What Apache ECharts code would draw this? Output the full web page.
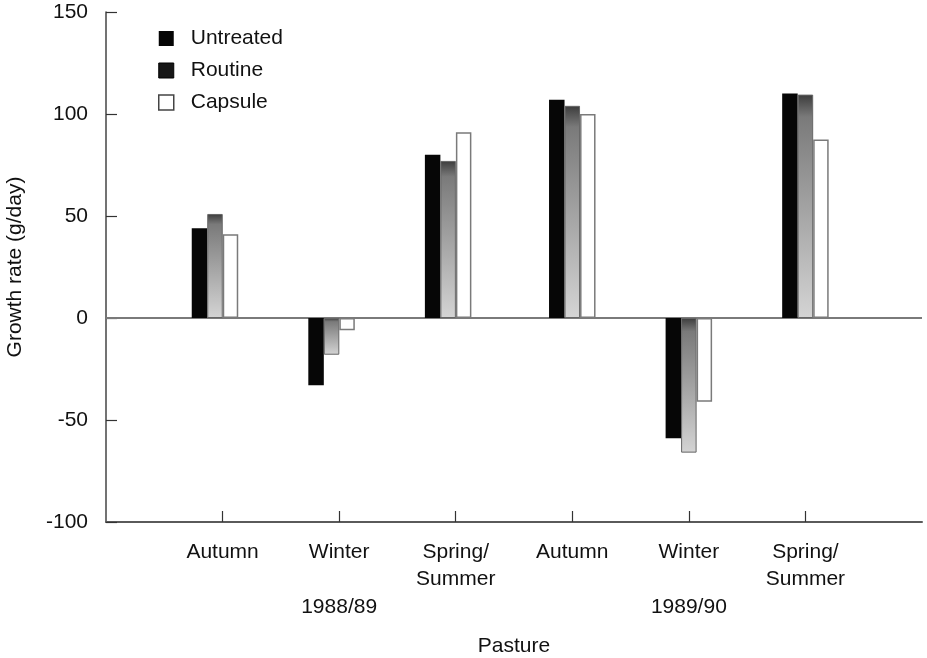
<!DOCTYPE html>
<html>
<head>
<meta charset="utf-8">
<script src="https://cdn.jsdelivr.net/npm/echarts@6/dist/echarts.min.js"></script>
<style>
  html, body { margin: 0; padding: 0; background: #fff; }
  #chart { width: 927px; height: 658px; }
</style>
</head>
<body>
<div id="chart"></div>
<script>
// Pasture seasons over two grazing years, growth rate in g/day
const seasons = ['Autumn', 'Winter', 'Spring/\nSummer', 'Autumn', 'Winter', 'Spring/\nSummer'];
const years = ['1988/89', '1989/90'];
const untreated = [44, -33, 80, 107, -59, 110];
const routine = [51, -18, 77, 104, -66, 109.5];
const capsule = [41, -6, 91, 100, -41, 87.5];
const yTicks = [-100, -50, 0, 50, 100, 150];

const FONT = '"Liberation Sans", Arial, Helvetica, sans-serif';
const TEXT = '#111';
const FS = 21;

// season slots sit at 1..6 on the x scale; the first year's groups are drawn a touch left
const seasonPos = seasons.map((_, i) => i + 1);
const groupPos = seasonPos.map((p, i) => (i < 3 ? p - 0.065 : p));
const yearPos = [2, 5];

const toPairs = vals => vals.map((v, i) => [groupPos[i], v]);

const chart = echarts.init(document.getElementById('chart'), null, { renderer: 'canvas' });

chart.setOption({
  backgroundColor: '#fff',
  animation: false,
  textStyle: { fontFamily: FONT },
  grid: { left: 106, right: 5, top: 12, bottom: 136, containLabel: false, outerBoundsMode: 'none' },
  legend: {
    orient: 'vertical',
    left: 153,
    top: 23,
    padding: 5,
    itemWidth: 15,
    itemHeight: 15,
    itemGap: 11,
    selectedMode: false,
    textStyle: { fontFamily: FONT, fontSize: FS, color: TEXT, padding: [0, 0, 0, 12] },
    data: [
      { name: 'Untreated', icon: 'rect', itemStyle: { color: '#050505', borderWidth: 0 } },
      { name: 'Routine', icon: 'rect', itemStyle: { color: '#161616', borderColor: '#000', borderWidth: 1 } },
      { name: 'Capsule', icon: 'rect', itemStyle: { color: '#fff', borderColor: '#444', borderWidth: 1.5 } }
    ]
  },
  xAxis: [
    {
      type: 'value',
      min: 0,
      max: 7,
      position: 'bottom',
      axisLine: { show: true, onZero: false, lineStyle: { color: '#5a5a5a', width: 2 } },
      axisTick: { show: true, inside: true, length: 11, customValues: seasonPos, lineStyle: { color: '#333', width: 1.2 } },
      axisLabel: {
        customValues: seasonPos,
        formatter: v => seasons[Math.round(v) - 1] || '',
        fontFamily: FONT, fontSize: FS, lineHeight: 27, color: TEXT, margin: 17
      },
      splitLine: { show: false }
    },
    {
      type: 'value',
      min: 0,
      max: 7,
      position: 'bottom',
      offset: 60,
      axisLine: { show: false },
      axisTick: { show: false },
      axisLabel: {
        customValues: yearPos,
        formatter: v => years[yearPos.indexOf(Math.round(v))] || '',
        fontFamily: FONT, fontSize: FS, color: TEXT, margin: 15
      },
      splitLine: { show: false },
      name: 'Pasture',
      nameLocation: 'middle',
      nameGap: 54,
      nameTextStyle: { fontFamily: FONT, fontSize: FS, color: TEXT }
    }
  ],
  yAxis: {
    type: 'value',
    min: yTicks[0],
    max: yTicks[yTicks.length - 1],
    interval: 50,
    axisLine: { show: true, lineStyle: { color: '#444', width: 1.5 } },
    axisTick: { show: true, inside: true, length: 11, lineStyle: { color: '#333', width: 1.2 } },
    axisLabel: { fontFamily: FONT, fontSize: FS, color: TEXT, margin: 18 },
    splitLine: { show: false },
    name: 'Growth rate (g/day)',
    nameLocation: 'middle',
    nameRotate: 90,
    nameGap: 80,
    nameTextStyle: { fontFamily: FONT, fontSize: FS, color: TEXT }
  },
  series: [
    {
      name: 'Untreated',
      type: 'bar',
      xAxisIndex: 0,
      barWidth: 15.5,
      barGap: '0%',
      itemStyle: { color: '#060606' },
      data: toPairs(untreated),
      markLine: {
        silent: true,
        symbol: 'none',
        label: { show: false },
        lineStyle: { color: '#7a7a7a', width: 2, type: 'solid' },
        data: [{ yAxis: 0 }],
        z: 1
      }
    },
    {
      name: 'Routine',
      type: 'bar',
      xAxisIndex: 0,
      barWidth: 15.5,
      barGap: '0%',
      itemStyle: {
        color: new echarts.graphic.LinearGradient(0, 0, 0, 1, [
          { offset: 0, color: '#3c3c3c' },
          { offset: 0.1, color: '#7a7a7a' },
          { offset: 0.5, color: '#a2a2a2' },
          { offset: 1, color: '#d4d4d4' }
        ]),
        borderColor: '#666',
        borderWidth: 1
      },
      data: toPairs(routine)
    },
    {
      name: 'Capsule',
      type: 'bar',
      xAxisIndex: 0,
      barWidth: 15.5,
      barGap: '0%',
      itemStyle: { color: '#fff', borderColor: '#7a7a7a', borderWidth: 1.5 },
      data: toPairs(capsule)
    }
  ]
});
</script>
</body>
</html>
